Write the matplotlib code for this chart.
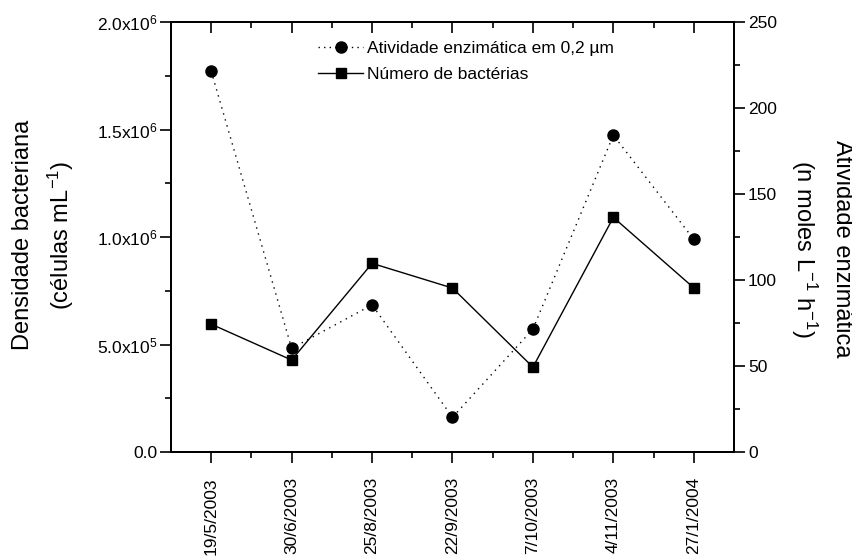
import matplotlib
matplotlib.use("Agg")
import matplotlib.pyplot as plt
from matplotlib.lines import Line2D
from matplotlib.ticker import FixedLocator
import numpy as np

plt.rcParams['font.family'] = ['Liberation Sans', 'DejaVu Sans']
plt.rcParams['mathtext.default'] = 'regular'

# Datas de amostragem
datas = ['19/5/2003', '30/6/2003', '25/8/2003', '22/9/2003',
         '7/10/2003', '4/11/2003', '27/1/2004']

# Número de bactérias (células mL-1)
bacterias = [0.595e6, 0.428e6, 0.878e6, 0.763e6, 0.395e6, 1.092e6, 0.764e6]

# Atividade enzimática em 0,2 µm (n moles L-1 h-1)
atividade = [221.5, 60.3, 85.6, 20.2, 71.5, 184.3, 123.7]

# Ticks dos eixos y
ticks_esq = [0, 0.5e6, 1.0e6, 1.5e6, 2.0e6]
rotulos_esq = ['0.0', r'5.0x10$^{5}$', r'1.0x10$^{6}$',
               r'1.5x10$^{6}$', r'2.0x10$^{6}$']
ticks_dir = [0, 50, 100, 150, 200, 250]

x = np.arange(len(datas))
fs = 12.5

fig = plt.figure(figsize=(8.52, 5.56), dpi=100)
ax = fig.add_axes([0.2007, 0.187, 0.6608, 0.773])
ax2 = ax.twinx()

ax.plot(x, bacterias, '-', color='black', lw=1.0, marker='s', ms=7.5,
        markerfacecolor='black', markeredgecolor='black', zorder=3)
ax2.plot(x, atividade, color='black', lw=1.0, ls=(0, (1, 3.5)), marker='o',
         ms=8, markerfacecolor='black', markeredgecolor='black', zorder=3)

ax.set_xlim(-0.5, len(datas) - 0.5)
ax.set_ylim(0, 2.0e6)
ax2.set_ylim(0, 250)

# Eixo esquerdo
ax.set_yticks(ticks_esq, rotulos_esq)
ax.yaxis.set_minor_locator(FixedLocator(np.arange(0.25e6, 2.0e6, 0.5e6)))

# Eixo x com datas
ax.set_xticks(x, datas, rotation=90)
ax.xaxis.set_minor_locator(FixedLocator(x[:-1] + 0.5))

ax.tick_params(axis='y', which='both', direction='out', right=False,
               labelsize=fs, pad=2)
ax.tick_params(axis='y', which='major', length=8, width=1.2)
ax.tick_params(axis='y', which='minor', length=4, width=1.2)
ax.tick_params(axis='x', which='both', direction='out', top=False,
               labelsize=fs, pad=10)
ax.tick_params(axis='x', which='major', length=8, width=1.2)
ax.tick_params(axis='x', which='minor', length=4, width=1.2)

# Ticks no topo, para dentro
sec = ax.secondary_xaxis('top')
sec.xaxis.set_major_locator(FixedLocator(x))
sec.xaxis.set_minor_locator(FixedLocator(x[:-1] + 0.5))
sec.tick_params(which='both', direction='in', labeltop=False, width=1.2)
sec.tick_params(which='major', length=8)
sec.tick_params(which='minor', length=4)
sec.spines['top'].set_visible(False)

# Eixo direito
ax2.set_yticks(ticks_dir)
ax2.yaxis.set_minor_locator(FixedLocator(np.arange(25, 250, 50)))
ax2.tick_params(axis='y', which='both', direction='out', labelsize=fs, pad=2)
ax2.tick_params(axis='y', which='major', length=8, width=1.2)
ax2.tick_params(axis='y', which='minor', length=4, width=1.2)

for a in (ax, ax2):
    for s in a.spines.values():
        s.set_linewidth(1.4)

# Títulos dos eixos
fig.text(0.0516, 0.577, 'Densidade bacteriana\n(células mL$^{-1}$)',
         rotation=90, ha='center', va='center', fontsize=17,
         linespacing=1.55, multialignment='center')
fig.text(0.9636, 0.552, 'Atividade enzimática\n(n moles L$^{-1}$ h$^{-1}$)',
         rotation=270, ha='center', va='center', fontsize=17,
         linespacing=1.55, multialignment='center')

handles = [
    Line2D([], [], color='black', lw=1.0, ls=(0, (1, 3)), marker='o', ms=8),
    Line2D([], [], color='black', lw=1.0, ls='-', marker='s', ms=7),
]
labels = ['Atividade enzimática em 0,2 µm', 'Número de bactérias']
ax.legend(handles, labels, loc='upper left', bbox_to_anchor=(0.261, 0.956),
          frameon=False, fontsize=fs, handlelength=2.6, handletextpad=0.2,
          labelspacing=0.62, borderpad=0, borderaxespad=0, numpoints=1)

fig.savefig('out.png', dpi=100)
